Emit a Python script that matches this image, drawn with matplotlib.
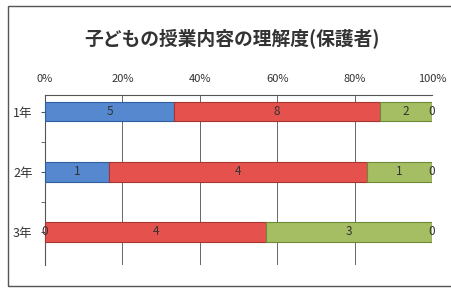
import numpy as np
import matplotlib
matplotlib.use('Agg')
import matplotlib.pyplot as plt
from matplotlib.patches import Rectangle

plt.rcParams['font.family'] = ['Noto Sans CJK JP', 'DejaVu Sans']

# データ(人数)
grades = ['1年', '2年', '3年']
s1 = [5, 1, 0]
s2 = [8, 4, 4]
s3 = [2, 1, 3]
s4 = [0, 0, 0]
series = [s1, s2, s3, s4]
colors = ['#5588CF', '#E5524E', '#A6BE63', '#8064A2']
edges = ['#2F5F9E', '#A83430', '#6F8A36', '#5B4477']
tick_labels = ['0%', '20%', '40%', '60%', '80%', '100%']

totals = np.sum(series, axis=0)

fig = plt.figure(figsize=(4.52, 2.92), dpi=100)
ax = fig.add_axes([45 / 452, 1 - 265 / 292, 387 / 452, 170 / 292])

y = np.arange(len(grades))
left = np.zeros(len(grades))
for vals, c, ec in zip(series, colors, edges):
    pct = np.array(vals) / totals * 100
    bars = ax.barh(y, pct, left=left, height=0.32, color=c,
                   edgecolor=ec, linewidth=0.8, zorder=3)
    ax.bar_label(bars, labels=[str(v) for v in vals], label_type='center',
                 fontsize=8.5, color='#333333', zorder=4)
    left += pct

ax.set_xlim(0, 100)
ax.set_ylim(2.55, -0.28)
ax.set_yticks(y)
ax.set_yticklabels(grades, fontsize=9, color='#333333')
ax.set_yticks([0.5, 1.5], minor=True)
ax.set_xticks(np.arange(0, 101, 20))
ax.set_xticklabels(tick_labels, fontsize=8, color='#333333')
ax.xaxis.tick_top()
ax.tick_params(axis='x', length=0, pad=8)
ax.tick_params(axis='y', which='both', length=3, color='#555555', pad=6)
ax.grid(axis='x', color='#666666', linewidth=0.7, zorder=0)
for side in ['right', 'bottom']:
    ax.spines[side].set_visible(False)
ax.spines['top'].set_color('#555555')
ax.spines['left'].set_color('#555555')

fig.text(232 / 452, 1 - 38 / 292, '子どもの授業内容の理解度(保護者)',
         ha='center', va='center', fontsize=13.5, fontweight='bold', color='#333333')

# 外枠
fig.patches.append(Rectangle((8 / 452, 0.02), 0.99, 0.96, transform=fig.transFigure,
                             fill=False, edgecolor='#555555', linewidth=1))

plt.savefig('out.png', dpi=100)
plt.close()
